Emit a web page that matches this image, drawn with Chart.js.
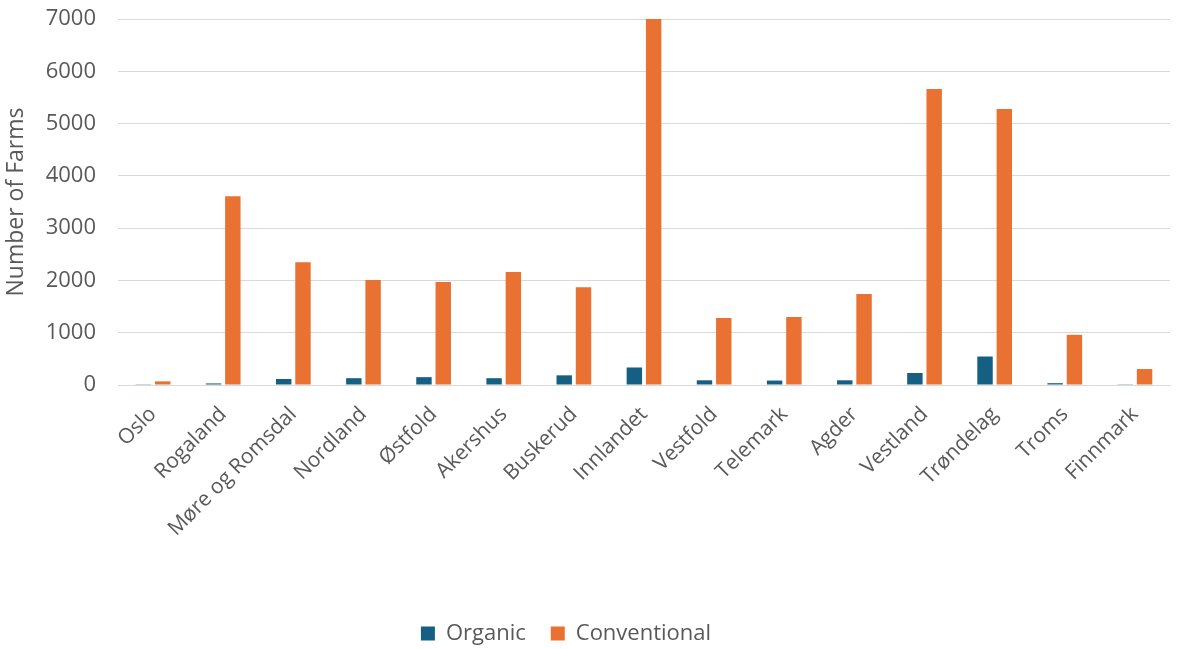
<!DOCTYPE html>
<html>
<head>
<meta charset="utf-8">
<script src="https://cdn.jsdelivr.net/npm/chart.js@4.4.1/dist/chart.umd.min.js"></script>
<style>
html,body{margin:0;padding:0;background:#fff;}
#wrap{width:1187px;height:649px;position:relative;}
</style>
</head>
<body>
<div id="wrap"><canvas id="c" width="1187" height="649"></canvas></div>
<script>
const categories = ["Oslo","Rogaland","Møre og Romsdal","Nordland","Østfold","Akershus","Buskerud","Innlandet","Vestfold","Telemark","Agder","Vestland","Trøndelag","Troms","Finnmark"];
const organic = [5,30,115,130,150,130,185,335,90,85,90,230,545,35,5];
const conventional = [70,3610,2350,2010,1970,2160,1870,7000,1280,1300,1740,5660,5280,960,305];
const yTicks = [0,1000,2000,3000,4000,5000,6000,7000];

const textColor = '#595959';
const fontFamily = '"Open Sans", "Liberation Sans", Arial, sans-serif';

const legendShift = {
  id: 'legendShift',
  afterLayout(chart) {
    const lg = chart.legend;
    if (!lg) return;
    const dy = 649 - 23 - (lg.top + lg.height / 2);
    lg.top += dy; lg.bottom += dy;
    lg.left -= 19; lg.right -= 19;
  }
};

new Chart(document.getElementById('c'), {
  type: 'bar',
  data: {
    labels: categories,
    datasets: [
      {label: 'Organic', data: organic, backgroundColor: '#156082', barPercentage: 0.8, categoryPercentage: 0.55},
      {label: 'Conventional', data: conventional, backgroundColor: '#E97132', barPercentage: 0.8, categoryPercentage: 0.55}
    ]
  },
  plugins: [legendShift],
  options: {
    responsive: false,
    animation: false,
    layout: {padding: {top: 19, right: 17, bottom: 0, left: 0}},
    plugins: {
      legend: {
        position: 'bottom',
        labels: {boxWidth: 14, boxHeight: 14, padding: 25, color: textColor, font: {family: fontFamily, size: 22}}
      },
      tooltip: {enabled: false}
    },
    scales: {
      x: {
        grid: {display: false},
        border: {display: true, color: '#D9D9D9', width: 1},
        ticks: {color: textColor, font: {family: fontFamily, size: 21}, minRotation: 45, maxRotation: 45, autoSkip: false, padding: 9},
        afterFit: s => { s.height = 30; }
      },
      y: {
        min: 0, max: 7000,
        afterBuildTicks: s => { s.ticks = yTicks.map(v => ({value: v})); },
        grid: {color: '#D9D9D9', lineWidth: 1, drawTicks: false},
        border: {display: false},
        ticks: {color: textColor, font: {family: fontFamily, size: 22}, padding: 22, callback: v => String(v)},
        title: {display: true, text: 'Number of Farms', color: textColor, font: {family: fontFamily, size: 23}, padding: {top: 3, bottom: 0}},
        afterFit: s => { s.width = 118; s.paddingTop = 0; s.paddingBottom = 0; }
      }
    }
  }
});
</script>
<script>
// fix x-axis height so that plot bottom lands at y=385
(function(){
  const ch = Chart.getChart('c');
  const lgH = ch.legend.height;
  ch.options.scales.x.afterFit = s => { s.height = 649 - lgH - 385; };
  ch.update('none');
})();
</script>
</body>
</html>
